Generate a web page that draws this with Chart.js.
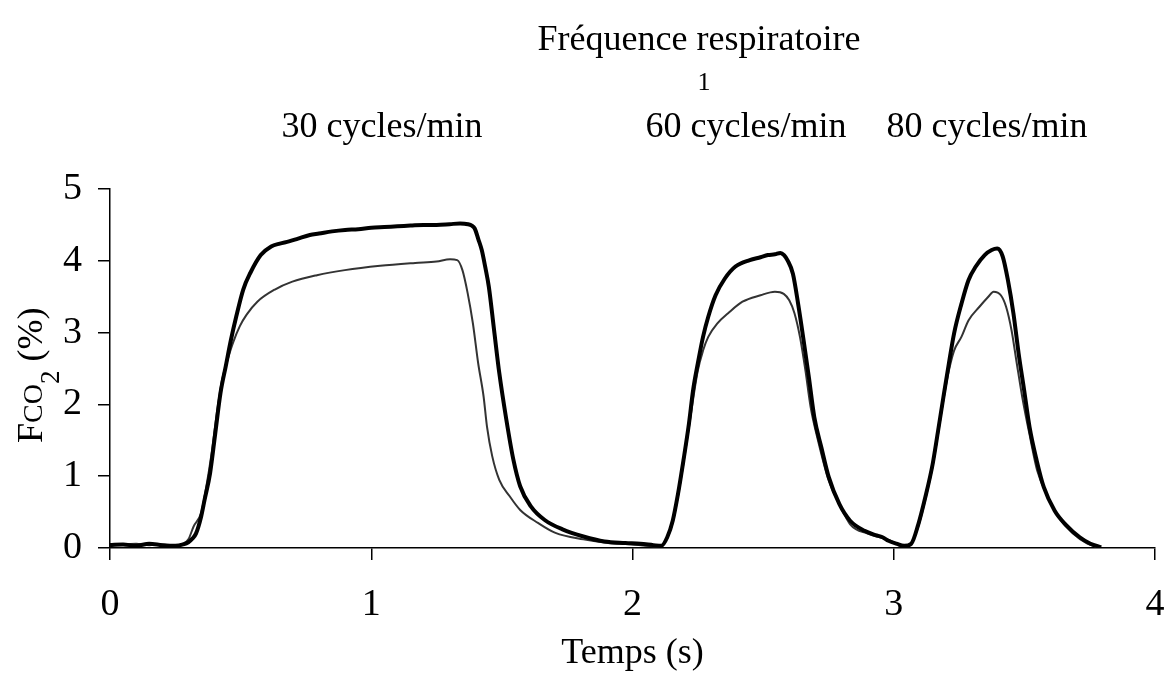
<!DOCTYPE html>
<html>
<head>
<meta charset="utf-8">
<script src="https://cdn.jsdelivr.net/npm/chart.js@4/dist/chart.umd.min.js"></script>
<style>
html,body{margin:0;padding:0;background:#fff;}
canvas{display:block;}
</style>
</head>
<body>
<canvas id="c" width="1166" height="677"></canvas>
<script>
// ---- Data ----
const xTicks = [0, 1, 2, 3, 4];
const yTicks = [0, 1, 2, 3, 4, 5];

const thickTime = [0,0.05,0.1,0.15,0.2,0.25,0.28,0.30,0.315,0.329,0.349,0.362,0.383,0.403,0.423,0.443,0.463,0.483,0.51,0.537,0.577,0.617,0.65,0.685,0.72,0.765,0.8,0.85,0.9,0.95,1.0,1.05,1.1,1.15,1.2,1.25,1.3,1.34,1.37,1.385,1.396,1.41,1.423,1.437,1.45,1.47,1.49,1.517,1.544,1.57,1.611,1.664,1.732,1.812,1.893,1.973,2.03,2.08,2.11,2.133,2.154,2.174,2.195,2.216,2.232,2.25,2.27,2.29,2.318,2.353,2.394,2.449,2.49,2.518,2.545,2.566,2.58,2.593,2.614,2.634,2.655,2.675,2.696,2.723,2.751,2.792,2.833,2.888,2.93,2.957,2.98,3.01,3.04,3.067,3.094,3.121,3.149,3.17,3.19,3.211,3.231,3.259,3.286,3.314,3.348,3.375,3.396,3.417,3.437,3.458,3.478,3.499,3.52,3.547,3.574,3.616,3.657,3.712,3.753,3.794];
const thickValue = [0.04,0.05,0.03,0.06,0.04,0.03,0.05,0.08,0.13,0.2,0.44,0.67,1.04,1.6,2.16,2.53,2.9,3.22,3.6,3.83,4.08,4.2,4.24,4.27,4.31,4.36,4.38,4.41,4.43,4.44,4.46,4.47,4.48,4.49,4.5,4.5,4.51,4.52,4.51,4.49,4.45,4.3,4.15,3.9,3.64,3.04,2.44,1.79,1.23,0.86,0.58,0.39,0.26,0.16,0.09,0.07,0.06,0.04,0.03,0.15,0.38,0.75,1.22,1.73,2.2,2.57,2.94,3.22,3.52,3.75,3.92,4.01,4.05,4.08,4.09,4.11,4.08,4.01,3.82,3.4,2.89,2.38,1.82,1.4,0.99,0.61,0.38,0.24,0.18,0.15,0.1,0.06,0.03,0.06,0.33,0.71,1.17,1.64,2.1,2.57,2.99,3.4,3.73,3.92,4.08,4.15,4.17,4.06,3.73,3.27,2.71,2.2,1.68,1.22,0.85,0.52,0.33,0.15,0.06,0.01];

const thinTime = [0,0.05,0.1,0.15,0.2,0.25,0.28,0.30,0.32,0.349,0.369,0.389,0.409,0.429,0.45,0.47,0.497,0.523,0.564,0.631,0.698,0.792,0.899,1.034,1.168,1.25,1.302,1.329,1.349,1.369,1.389,1.409,1.43,1.443,1.463,1.49,1.53,1.57,1.638,1.705,1.812,1.906,2.0,2.05,2.1,2.13,2.154,2.174,2.195,2.216,2.25,2.27,2.29,2.325,2.366,2.421,2.49,2.545,2.579,2.6,2.62,2.641,2.662,2.682,2.71,2.751,2.792,2.833,2.9,2.968,3.0,3.025,3.06,3.094,3.121,3.149,3.17,3.19,3.211,3.231,3.259,3.286,3.328,3.362,3.382,3.41,3.43,3.451,3.471,3.492,3.522,3.549,3.59,3.631,3.686,3.741,3.782];
const thinValue = [0.03,0.05,0.06,0.04,0.05,0.03,0.06,0.12,0.3,0.49,0.86,1.32,1.88,2.34,2.62,2.85,3.09,3.25,3.43,3.6,3.71,3.8,3.87,3.93,3.97,3.99,4.02,4.01,3.87,3.55,3.13,2.58,2.11,1.69,1.28,0.95,0.72,0.53,0.35,0.21,0.12,0.07,0.05,0.03,0.02,0.12,0.36,0.72,1.18,1.68,2.47,2.75,2.94,3.13,3.27,3.43,3.52,3.57,3.54,3.45,3.27,2.94,2.47,1.96,1.5,0.94,0.61,0.33,0.2,0.13,0.08,0.03,0.04,0.3,0.68,1.14,1.6,2.06,2.47,2.75,2.94,3.17,3.36,3.5,3.57,3.52,3.36,3.03,2.57,2.1,1.54,1.08,0.71,0.43,0.2,0.06,0.01];

const topTitle = "Fréquence respiratoire";
const topNote = "1";
const rateLabels = ["30 cycles/min", "60 cycles/min", "80 cycles/min"];
const xTitle = "Temps (s)";

// ---- Chart ----
const FONT = "'Liberation Serif', 'Times New Roman', serif";

const annotations = {
  id: 'annotations',
  afterDraw(chart) {
    const ctx = chart.ctx;
    ctx.save();
    ctx.fillStyle = '#000';
    ctx.textAlign = 'center';
    ctx.textBaseline = 'alphabetic';
    ctx.font = "36px " + FONT;
    ctx.fillText(topTitle, 699, 50);
    ctx.font = "26px " + FONT;
    ctx.fillText(topNote, 704, 90);
    ctx.font = "36px " + FONT;
    const rx = [382, 746, 987];
    rateLabels.forEach((t, i) => ctx.fillText(t, rx[i], 137));

    // y axis title: F CO2 (%)
    ctx.translate(42, 443);
    ctx.rotate(-Math.PI / 2);
    ctx.textAlign = 'left';
    let u = 0;
    ctx.font = "36px " + FONT;
    ctx.fillText("F", u, 0); u += ctx.measureText("F").width;
    ctx.font = "28px " + FONT;
    ctx.fillText("CO", u, 0); u += ctx.measureText("CO").width;
    ctx.font = "27px " + FONT;
    ctx.fillText("2", u, 17); u += ctx.measureText("2").width;
    ctx.font = "36px " + FONT;
    ctx.fillText(" (%)", u, 0);
    ctx.restore();
  }
};

new Chart(document.getElementById('c'), {
  type: 'line',
  data: {
    datasets: [
      {
        data: thickTime.map((t, i) => ({ x: t, y: thickValue[i] })),
        borderColor: '#000',
        borderWidth: 4,
        pointRadius: 0,
        cubicInterpolationMode: 'monotone',
        fill: false
      },
      {
        data: thinTime.map((t, i) => ({ x: t, y: thinValue[i] })),
        borderColor: '#333',
        borderWidth: 2,
        pointRadius: 0,
        cubicInterpolationMode: 'monotone',
        fill: false
      }
    ]
  },
  options: {
    responsive: false,
    animation: false,
    devicePixelRatio: 1,
    layout: { padding: { top: 189, right: 11, left: 0, bottom: 0 } },
    plugins: { legend: { display: false }, tooltip: { enabled: false }, title: { display: false } },
    scales: {
      x: {
        type: 'linear',
        min: xTicks[0],
        max: xTicks[xTicks.length - 1],
        afterBuildTicks: s => { s.ticks = xTicks.map(v => ({ value: v })); },
        afterFit: s => { s.height = 129; s.paddingLeft = 0; s.paddingRight = 0; },
        ticks: { color: '#000', font: { family: FONT, size: 38 }, padding: 22, maxRotation: 0 },
        grid: { drawOnChartArea: false, drawTicks: true, tickLength: 12, color: '#000', lineWidth: 1.5 },
        border: { color: '#000', width: 1.5 },
        title: { display: true, text: xTitle, color: '#000', font: { family: FONT, size: 36 }, padding: { top: 0, bottom: 2 } }
      },
      y: {
        min: yTicks[0],
        max: yTicks[yTicks.length - 1],
        afterBuildTicks: s => { s.ticks = yTicks.map(v => ({ value: v })); },
        afterFit: s => { s.width = 110; s.paddingTop = 0; s.paddingBottom = 0; },
        ticks: { color: '#000', font: { family: FONT, size: 38 }, padding: 16 },
        grid: { drawOnChartArea: false, drawTicks: true, tickLength: 12, color: '#000', lineWidth: 1.5 },
        border: { color: '#000', width: 1.5 }
      }
    }
  },
  plugins: [annotations]
});
</script>
</body>
</html>
